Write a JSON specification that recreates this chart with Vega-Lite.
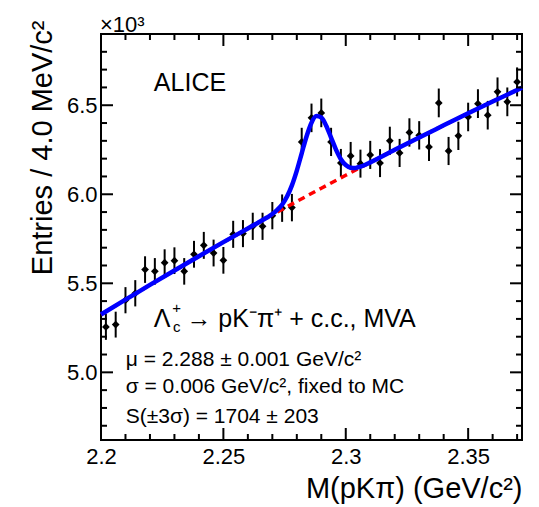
{
  "$schema": "https://vega.github.io/schema/vega-lite/v6.json",
  "width": 421,
  "height": 406,
  "autosize": "none",
  "padding": {"left": 101, "top": 34, "right": 17, "bottom": 67},
  "background": "white",
  "config": {
    "font": "Liberation Sans",
    "view": {"stroke": "black", "strokeWidth": 2},
    "axis": {
      "domain": false, "grid": false, "ticks": false,
      "labelColor": "black", "labelFont": "Liberation Sans", "labelFontSize": 22,
      "titleFont": "Liberation Sans", "titleFontSize": 29, "titleFontWeight": "normal", "titleColor": "black",
      "labelFlush": false
    }
  },
  "datasets": {
    "points": [
      {"x": 2.202, "y": 5.255, "err": 0.0725},
      {"x": 2.206, "y": 5.268, "err": 0.0726},
      {"x": 2.210, "y": 5.405, "err": 0.0735},
      {"x": 2.214, "y": 5.444, "err": 0.0738},
      {"x": 2.218, "y": 5.577, "err": 0.0747},
      {"x": 2.222, "y": 5.567, "err": 0.0746},
      {"x": 2.226, "y": 5.616, "err": 0.0749},
      {"x": 2.230, "y": 5.627, "err": 0.0750},
      {"x": 2.234, "y": 5.567, "err": 0.0746},
      {"x": 2.238, "y": 5.663, "err": 0.0753},
      {"x": 2.242, "y": 5.713, "err": 0.0756},
      {"x": 2.246, "y": 5.670, "err": 0.0753},
      {"x": 2.250, "y": 5.629, "err": 0.0750},
      {"x": 2.254, "y": 5.775, "err": 0.0760},
      {"x": 2.258, "y": 5.779, "err": 0.0760},
      {"x": 2.262, "y": 5.820, "err": 0.0763},
      {"x": 2.266, "y": 5.820, "err": 0.0763},
      {"x": 2.270, "y": 5.880, "err": 0.0767},
      {"x": 2.274, "y": 5.922, "err": 0.0770},
      {"x": 2.278, "y": 5.925, "err": 0.0770},
      {"x": 2.282, "y": 6.294, "err": 0.0793},
      {"x": 2.286, "y": 6.429, "err": 0.0802},
      {"x": 2.290, "y": 6.457, "err": 0.0804},
      {"x": 2.294, "y": 6.294, "err": 0.0793},
      {"x": 2.298, "y": 6.176, "err": 0.0786},
      {"x": 2.302, "y": 6.215, "err": 0.0788},
      {"x": 2.306, "y": 6.172, "err": 0.0786},
      {"x": 2.310, "y": 6.221, "err": 0.0789},
      {"x": 2.314, "y": 6.175, "err": 0.0786},
      {"x": 2.318, "y": 6.300, "err": 0.0794},
      {"x": 2.322, "y": 6.232, "err": 0.0789},
      {"x": 2.326, "y": 6.347, "err": 0.0797},
      {"x": 2.330, "y": 6.331, "err": 0.0796},
      {"x": 2.334, "y": 6.266, "err": 0.0792},
      {"x": 2.338, "y": 6.513, "err": 0.0807},
      {"x": 2.342, "y": 6.243, "err": 0.0790},
      {"x": 2.346, "y": 6.328, "err": 0.0795},
      {"x": 2.350, "y": 6.434, "err": 0.0802},
      {"x": 2.354, "y": 6.509, "err": 0.0807},
      {"x": 2.358, "y": 6.444, "err": 0.0803},
      {"x": 2.362, "y": 6.575, "err": 0.0811},
      {"x": 2.366, "y": 6.519, "err": 0.0807},
      {"x": 2.370, "y": 6.631, "err": 0.0814}
    ],
    "bg": [
      {"x": 2.20, "y": 5.325}, {"x": 2.21, "y": 5.408}, {"x": 2.22, "y": 5.491},
      {"x": 2.23, "y": 5.572}, {"x": 2.24, "y": 5.652}, {"x": 2.25, "y": 5.731},
      {"x": 2.26, "y": 5.808}, {"x": 2.27, "y": 5.885}, {"x": 2.28, "y": 5.960},
      {"x": 2.29, "y": 6.034}, {"x": 2.30, "y": 6.107}, {"x": 2.31, "y": 6.179},
      {"x": 2.32, "y": 6.250}, {"x": 2.33, "y": 6.319}, {"x": 2.34, "y": 6.387},
      {"x": 2.35, "y": 6.455}, {"x": 2.36, "y": 6.521}, {"x": 2.372, "y": 6.598}
    ],
    "fit": [
      {"x": 2.200, "y": 5.325}, {"x": 2.210, "y": 5.408}, {"x": 2.220, "y": 5.491},
      {"x": 2.230, "y": 5.572}, {"x": 2.240, "y": 5.652}, {"x": 2.250, "y": 5.731},
      {"x": 2.260, "y": 5.808}, {"x": 2.264, "y": 5.839}, {"x": 2.268, "y": 5.871},
      {"x": 2.270, "y": 5.889}, {"x": 2.272, "y": 5.912}, {"x": 2.274, "y": 5.942},
      {"x": 2.276, "y": 5.987}, {"x": 2.278, "y": 6.050}, {"x": 2.280, "y": 6.133},
      {"x": 2.282, "y": 6.230}, {"x": 2.284, "y": 6.326}, {"x": 2.286, "y": 6.402},
      {"x": 2.288, "y": 6.439}, {"x": 2.290, "y": 6.431}, {"x": 2.292, "y": 6.385},
      {"x": 2.294, "y": 6.318}, {"x": 2.296, "y": 6.251}, {"x": 2.298, "y": 6.197},
      {"x": 2.300, "y": 6.164}, {"x": 2.302, "y": 6.149}, {"x": 2.304, "y": 6.148},
      {"x": 2.306, "y": 6.155}, {"x": 2.308, "y": 6.166}, {"x": 2.310, "y": 6.179},
      {"x": 2.320, "y": 6.250}, {"x": 2.330, "y": 6.319}, {"x": 2.340, "y": 6.387},
      {"x": 2.350, "y": 6.455}, {"x": 2.360, "y": 6.521}, {"x": 2.372, "y": 6.598}
    ],
    "xticks": [
      {"x": 2.25, "y": 4.62, "y2": 4.6874}, {"x": 2.3, "y": 4.62, "y2": 4.6874}, {"x": 2.35, "y": 4.62, "y2": 4.6874},
      {"x": 2.25, "y": 6.9, "y2": 6.8326}, {"x": 2.3, "y": 6.9, "y2": 6.8326}, {"x": 2.35, "y": 6.9, "y2": 6.8326},
      {"x": 2.21, "y": 4.62, "y2": 4.6537}, {"x": 2.22, "y": 4.62, "y2": 4.6537}, {"x": 2.23, "y": 4.62, "y2": 4.6537}, {"x": 2.24, "y": 4.62, "y2": 4.6537},
      {"x": 2.26, "y": 4.62, "y2": 4.6537}, {"x": 2.27, "y": 4.62, "y2": 4.6537}, {"x": 2.28, "y": 4.62, "y2": 4.6537}, {"x": 2.29, "y": 4.62, "y2": 4.6537},
      {"x": 2.31, "y": 4.62, "y2": 4.6537}, {"x": 2.32, "y": 4.62, "y2": 4.6537}, {"x": 2.33, "y": 4.62, "y2": 4.6537}, {"x": 2.34, "y": 4.62, "y2": 4.6537},
      {"x": 2.36, "y": 4.62, "y2": 4.6537}, {"x": 2.37, "y": 4.62, "y2": 4.6537},
      {"x": 2.21, "y": 6.9, "y2": 6.8663}, {"x": 2.22, "y": 6.9, "y2": 6.8663}, {"x": 2.23, "y": 6.9, "y2": 6.8663}, {"x": 2.24, "y": 6.9, "y2": 6.8663},
      {"x": 2.26, "y": 6.9, "y2": 6.8663}, {"x": 2.27, "y": 6.9, "y2": 6.8663}, {"x": 2.28, "y": 6.9, "y2": 6.8663}, {"x": 2.29, "y": 6.9, "y2": 6.8663},
      {"x": 2.31, "y": 6.9, "y2": 6.8663}, {"x": 2.32, "y": 6.9, "y2": 6.8663}, {"x": 2.33, "y": 6.9, "y2": 6.8663}, {"x": 2.34, "y": 6.9, "y2": 6.8663},
      {"x": 2.36, "y": 6.9, "y2": 6.8663}, {"x": 2.37, "y": 6.9, "y2": 6.8663}
    ],
    "yticks": [
      {"y": 5.0, "x": 2.2, "x2": 2.2049}, {"y": 5.5, "x": 2.2, "x2": 2.2049}, {"y": 6.0, "x": 2.2, "x2": 2.2049}, {"y": 6.5, "x": 2.2, "x2": 2.2049},
      {"y": 5.0, "x": 2.372, "x2": 2.3671}, {"y": 5.5, "x": 2.372, "x2": 2.3671}, {"y": 6.0, "x": 2.372, "x2": 2.3671}, {"y": 6.5, "x": 2.372, "x2": 2.3671},
      {"y": 4.7, "x": 2.2, "x2": 2.20245}, {"y": 4.8, "x": 2.2, "x2": 2.20245}, {"y": 4.9, "x": 2.2, "x2": 2.20245},
      {"y": 5.1, "x": 2.2, "x2": 2.20245}, {"y": 5.2, "x": 2.2, "x2": 2.20245}, {"y": 5.3, "x": 2.2, "x2": 2.20245}, {"y": 5.4, "x": 2.2, "x2": 2.20245},
      {"y": 5.6, "x": 2.2, "x2": 2.20245}, {"y": 5.7, "x": 2.2, "x2": 2.20245}, {"y": 5.8, "x": 2.2, "x2": 2.20245}, {"y": 5.9, "x": 2.2, "x2": 2.20245},
      {"y": 6.1, "x": 2.2, "x2": 2.20245}, {"y": 6.2, "x": 2.2, "x2": 2.20245}, {"y": 6.3, "x": 2.2, "x2": 2.20245}, {"y": 6.4, "x": 2.2, "x2": 2.20245},
      {"y": 6.6, "x": 2.2, "x2": 2.20245}, {"y": 6.7, "x": 2.2, "x2": 2.20245}, {"y": 6.8, "x": 2.2, "x2": 2.20245},
      {"y": 4.7, "x": 2.372, "x2": 2.36955}, {"y": 4.8, "x": 2.372, "x2": 2.36955}, {"y": 4.9, "x": 2.372, "x2": 2.36955},
      {"y": 5.1, "x": 2.372, "x2": 2.36955}, {"y": 5.2, "x": 2.372, "x2": 2.36955}, {"y": 5.3, "x": 2.372, "x2": 2.36955}, {"y": 5.4, "x": 2.372, "x2": 2.36955},
      {"y": 5.6, "x": 2.372, "x2": 2.36955}, {"y": 5.7, "x": 2.372, "x2": 2.36955}, {"y": 5.8, "x": 2.372, "x2": 2.36955}, {"y": 5.9, "x": 2.372, "x2": 2.36955},
      {"y": 6.1, "x": 2.372, "x2": 2.36955}, {"y": 6.2, "x": 2.372, "x2": 2.36955}, {"y": 6.3, "x": 2.372, "x2": 2.36955}, {"y": 6.4, "x": 2.372, "x2": 2.36955},
      {"y": 6.6, "x": 2.372, "x2": 2.36955}, {"y": 6.7, "x": 2.372, "x2": 2.36955}, {"y": 6.8, "x": 2.372, "x2": 2.36955}
    ]
  },
  "layer": [
    {
      "data": {"name": "points"},
      "mark": {"type": "errorbar", "ticks": false, "thickness": 2, "color": "black"},
      "encoding": {
        "x": {"field": "x", "type": "quantitative",
          "scale": {"domain": [2.2, 2.372], "nice": false, "zero": false},
          "axis": {"orient": "bottom", "values": [2.2, 2.25, 2.3, 2.35],
            "format": ".2~f", "labelPadding": 6,
            "title": "M(pKπ) (GeV/c²)", "titleAnchor": "end", "titleAlign": "right", "titlePadding": 7}},
        "y": {"field": "y", "type": "quantitative",
          "scale": {"domain": [4.62, 6.9], "nice": false, "zero": false},
          "axis": {"orient": "left", "values": [5.0, 5.5, 6.0, 6.5],
            "format": ".1f", "labelPadding": 4,
            "title": "Entries / 4.0 MeV/c²", "titleAnchor": "end", "titleY": -14, "titlePadding": 9}},
        "yError": {"field": "err"}
      }
    },
    {
      "data": {"name": "points"},
      "mark": {"type": "point", "shape": "diamond", "filled": true, "color": "black", "size": 60, "opacity": 1},
      "encoding": {
        "x": {"field": "x", "type": "quantitative", "axis": null},
        "y": {"field": "y", "type": "quantitative", "axis": null}
      }
    },
    {
      "data": {"name": "bg"},
      "mark": {"type": "line", "color": "#ff0000", "strokeWidth": 3.5, "strokeDash": [7, 5]},
      "encoding": {
        "x": {"field": "x", "type": "quantitative", "axis": null},
        "y": {"field": "y", "type": "quantitative", "axis": null}
      }
    },
    {
      "data": {"name": "fit"},
      "mark": {"type": "line", "color": "#0000ff", "strokeWidth": 4.5, "interpolate": "monotone"},
      "encoding": {
        "x": {"field": "x", "type": "quantitative", "axis": null},
        "y": {"field": "y", "type": "quantitative", "axis": null}
      }
    },
    {
      "data": {"name": "xticks"},
      "mark": {"type": "rule", "color": "black", "strokeWidth": 2},
      "encoding": {
        "x": {"field": "x", "type": "quantitative", "axis": null},
        "y": {"field": "y", "type": "quantitative", "axis": null},
        "y2": {"field": "y2"}
      }
    },
    {
      "data": {"name": "yticks"},
      "mark": {"type": "rule", "color": "black", "strokeWidth": 2},
      "encoding": {
        "y": {"field": "y", "type": "quantitative", "axis": null},
        "x": {"field": "x", "type": "quantitative", "axis": null},
        "x2": {"field": "x2"}
      }
    },
    {
      "data": {"values": [{"x": 2.2216, "y": 6.58, "label": "ALICE"}]},
      "mark": {"type": "text", "align": "left", "baseline": "alphabetic", "fontSize": 25, "color": "black"},
      "encoding": {
        "x": {"field": "x", "type": "quantitative", "axis": null},
        "y": {"field": "y", "type": "quantitative", "axis": null},
        "text": {"field": "label"}
      }
    },
    {
      "data": {"values": [{"x": 2.2, "y": 6.9, "label": "×10³"}]},
      "mark": {"type": "text", "align": "left", "baseline": "alphabetic", "fontSize": 22, "color": "black", "dy": -2, "dx": -1},
      "encoding": {
        "x": {"field": "x", "type": "quantitative", "axis": null},
        "y": {"field": "y", "type": "quantitative", "axis": null},
        "text": {"field": "label"}
      }
    },
    {
      "data": {"values": [
        {"x": 2.2216, "y": 5.2545, "label": "Λ"},
        {"x": 2.2349, "y": 5.2545, "label": "→ pK⁻π⁺ + c.c., MVA"}
      ]},
      "mark": {"type": "text", "align": "left", "baseline": "alphabetic", "fontSize": 25, "color": "black"},
      "encoding": {
        "x": {"field": "x", "type": "quantitative", "axis": null},
        "y": {"field": "y", "type": "quantitative", "axis": null},
        "text": {"field": "label"}
      }
    },
    {
      "data": {"values": [
        {"x": 2.2309, "y": 5.335, "label": "+"},
        {"x": 2.2309, "y": 5.228, "label": "c"}
      ]},
      "mark": {"type": "text", "align": "center", "baseline": "alphabetic", "fontSize": 15, "color": "black"},
      "encoding": {
        "x": {"field": "x", "type": "quantitative", "axis": null},
        "y": {"field": "y", "type": "quantitative", "axis": null},
        "text": {"field": "label"}
      }
    },
    {
      "data": {"values": [
        {"x": 2.2101, "y": 5.034, "label": "μ = 2.288 ± 0.001 GeV/c²"},
        {"x": 2.2101, "y": 4.884, "label": "σ = 0.006 GeV/c², fixed to MC"},
        {"x": 2.2101, "y": 4.715, "label": "S(±3σ) = 1704 ± 203"}
      ]},
      "mark": {"type": "text", "align": "left", "baseline": "alphabetic", "fontSize": 21, "color": "black"},
      "encoding": {
        "x": {"field": "x", "type": "quantitative", "axis": null},
        "y": {"field": "y", "type": "quantitative", "axis": null},
        "text": {"field": "label"}
      }
    }
  ],
  "resolve": {"axis": {"x": "independent", "y": "independent"}}
}
